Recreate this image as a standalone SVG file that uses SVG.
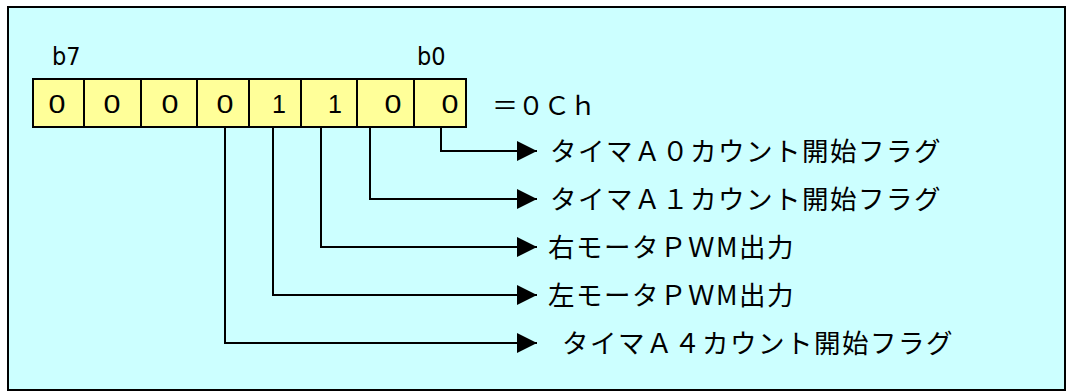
<svg xmlns="http://www.w3.org/2000/svg" width="1072" height="392" viewBox="0 0 1072 392">
<defs>
<style>
.frame{fill:#CCFFFF;stroke:#000;stroke-width:2}
.cell{fill:#FFFF99;stroke:#000;stroke-width:2}
.bit{font-family:"Liberation Sans",Arial,sans-serif;font-size:25px;fill:#000;text-anchor:middle}
.hdr{font-family:"DejaVu Sans Condensed","DejaVu Sans",sans-serif;font-stretch:condensed;font-size:25px;fill:#000}
.lbl{font-family:"Noto Sans CJK JP","Noto Sans",sans-serif;font-size:26.5px;fill:#000;letter-spacing:1.5px}
.eq{font-family:"Noto Sans CJK JP","Noto Sans",sans-serif;font-size:26px;fill:#000}
.conn{fill:none;stroke:#000;stroke-width:2}
</style>
<marker id="arr" viewBox="0 0 20 20" refX="20" refY="10" markerWidth="20" markerHeight="20" markerUnits="userSpaceOnUse" orient="auto">
<path d="M0,0 L20,10 L0,20 Z" fill="#000"/>
</marker>
</defs>
<rect class="frame" x="8" y="7" width="1057" height="383"/>
<g id="register">
<rect class="cell" x="33" y="79" width="51" height="48"/>
<rect class="cell" x="84" y="79" width="57" height="48"/>
<rect class="cell" x="141" y="79" width="56" height="48"/>
<rect class="cell" x="197" y="79" width="52" height="48"/>
<rect class="cell" x="249" y="79" width="52" height="48"/>
<rect class="cell" x="301" y="79" width="56" height="48"/>
<rect class="cell" x="357" y="79" width="57" height="48"/>
<rect class="cell" x="414" y="79" width="52" height="48"/>
<text class="bit" transform="translate(57,113) scale(1.22,1)">0</text>
<text class="bit" transform="translate(112,113) scale(1.22,1)">0</text>
<text class="bit" transform="translate(170,113) scale(1.22,1)">0</text>
<text class="bit" transform="translate(225,113) scale(1.22,1)">0</text>
<text class="bit" transform="translate(279,113)">1</text>
<text class="bit" transform="translate(335,113)">1</text>
<text class="bit" transform="translate(393,113) scale(1.22,1)">0</text>
<text class="bit" transform="translate(450,113) scale(1.22,1)">0</text>
</g>
<g id="headers">
<text class="hdr" x="52" y="65">b7</text>
<text class="hdr" x="417" y="65">b0</text>
</g>
<g id="value"><text class="eq" x="492" y="115">＝０Ｃｈ</text></g>
<g id="connectors">
<path class="conn" d="M441,127 V151 H537" marker-end="url(#arr)"/>
<path class="conn" d="M370,127 V199 H537" marker-end="url(#arr)"/>
<path class="conn" d="M321,127 V247 H537" marker-end="url(#arr)"/>
<path class="conn" d="M273,127 V295 H537" marker-end="url(#arr)"/>
<path class="conn" d="M225,127 V343 H537" marker-end="url(#arr)"/>
</g>
<g id="label-b0"><text class="lbl" x="550" y="161">タイマＡ０カウント開始フラグ</text></g>
<g id="label-b1"><text class="lbl" x="550" y="209">タイマＡ１カウント開始フラグ</text></g>
<g id="label-b2"><text class="lbl" x="548" y="257">右モータＰＷM出力</text></g>
<g id="label-b3"><text class="lbl" x="548" y="305">左モータＰＷM出力</text></g>
<g id="label-b4"><text class="lbl" x="562" y="353">タイマＡ４カウント開始フラグ</text></g>
</svg>
